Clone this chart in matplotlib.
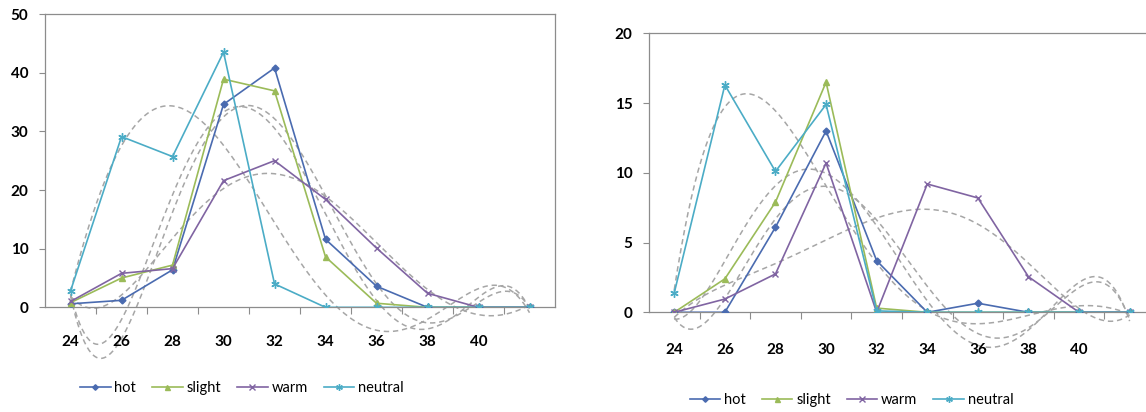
import numpy as np
import matplotlib.pyplot as plt

# temperature categories (the last one has no label on the axis)
temps = [24, 26, 28, 30, 32, 34, 36, 38, 40, 42]
tick_labels = ['24', '26', '28', '30', '32', '34', '36', '38', '40']
names = ['hot', 'slight', 'warm', 'neutral']

# left panel
hot_l = [0.6, 1.2, 6.4, 34.6, 40.8, 11.6, 3.6, 0, 0, 0]
slight_l = [0.8, 5.0, 7.2, 38.9, 36.9, 8.6, 0.7, 0, 0, 0]
warm_l = [1.0, 5.8, 6.6, 21.6, 25.0, 18.4, 10.1, 2.4, 0, 0]
neutral_l = [2.8, 29.1, 25.7, 43.5, 4.0, 0, 0, 0, 0, 0]

# right panel
hot_r = [0, 0, 6.1, 13.0, 3.7, 0, 0.65, 0, 0, 0]
slight_r = [0, 2.4, 7.9, 16.5, 0.3, 0, 0, 0, 0, 0]
warm_r = [0, 0.95, 2.75, 10.7, 0, 9.2, 8.2, 2.55, 0, 0]
neutral_r = [1.4, 16.3, 10.1, 14.9, 0.1, 0, 0, 0, 0, 0]

colors = ['#4a6bb0', '#9bbb59', '#8064a2', '#4bacc6']
markers = ['D', '^', 'x', (6, 2, 0)]
msizes = [3.5, 4.5, 5, 6]
trend_order = 5

plt.rcParams['font.family'] = ['Lato', 'DejaVu Sans']
frame = '#8c8c8c'


def draw_panel(ax, series, ymax, ystep, label_pad):
    xs = np.array(temps, dtype=float)
    xf = np.linspace(temps[0], temps[-1], 400)
    # polynomial trendlines, dashed grey, allowed to run past the axis
    for vals in series:
        coef = np.polyfit(xs, vals, trend_order)
        ax.plot(xf, np.polyval(coef, xf), color='#a6a6a6', lw=1.1,
                ls=(0, (3.5, 2.5)), zorder=1, clip_on=False)
    for vals, name, c, m, ms in zip(series, names, colors, markers, msizes):
        ax.plot(temps, vals, color=c, lw=1.2, marker=m, ms=ms,
                mec=c, mew=1.0, label=name, zorder=3)
    ax.set_xlim(23, 43)
    ax.set_ylim(0, ymax)
    ax.set_xticks(temps[:-1])
    ax.set_xticklabels(tick_labels)
    ax.set_xticks(np.arange(25, 43, 2), minor=True)
    ax.tick_params(axis='x', which='major', length=0, pad=label_pad)
    ax.tick_params(axis='x', which='minor', length=5, direction='out',
                   color=frame, width=0.8)
    ax.set_yticks(np.arange(0, ymax + 1, ystep))
    ax.tick_params(axis='y', length=4, direction='out', color=frame,
                   width=0.8, pad=8)
    for lab in ax.get_xticklabels() + ax.get_yticklabels():
        lab.set_fontweight('bold')
        lab.set_fontsize(11)
    for sp in ax.spines.values():
        sp.set_color(frame)
        sp.set_linewidth(0.9)


fig = plt.figure(figsize=(11.46, 4.12), dpi=100)
ax1 = fig.add_axes([0.0393, 0.254, 0.445, 0.712])
ax2 = fig.add_axes([0.5663, 0.242, 0.4415, 0.677])

draw_panel(ax1, [hot_l, slight_l, warm_l, neutral_l], 50, 10, 20)
draw_panel(ax2, [hot_r, slight_r, warm_r, neutral_r], 20, 5, 22)

for ax, cx, cy in [(ax1, 0.211, 0.058), (ax2, 0.743, 0.029)]:
    h, l = ax.get_legend_handles_labels()
    fig.legend(h, l, loc='center', bbox_to_anchor=(cx, cy), ncol=4,
               frameon=False, fontsize=10.5, handlelength=2.1,
               handletextpad=0.25, columnspacing=1.1, markerscale=0.8)

fig.savefig('out.png', dpi=100)
